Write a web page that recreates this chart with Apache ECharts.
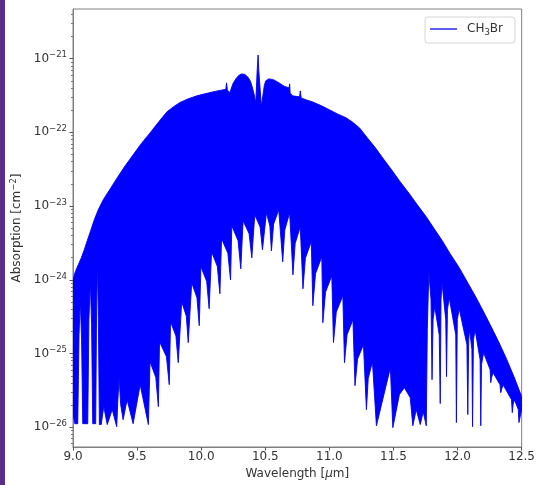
<!DOCTYPE html>
<html><head><meta charset="utf-8">
<script src="https://cdn.jsdelivr.net/npm/echarts@6/dist/echarts.min.js"></script>
<style>
html,body{margin:0;padding:0;background:#fff;}
#chart{position:absolute;left:0;top:0;width:538px;height:485px;}
#strip{position:absolute;left:0;top:0;width:5px;height:485px;background:#5b2e8c;}
</style></head><body>
<div id="chart"></div><div id="strip"></div>
<script>
// Upper envelope of the CH3Br absorption spectrum (wavelength in µm, absorption in cm^-2)
const upperWavelength = [9.000, 9.018, 9.041, 9.065, 9.088, 9.111, 9.135, 9.166, 9.197, 9.236,
  9.290, 9.345, 9.407, 9.469, 9.531, 9.601, 9.663, 9.733, 9.788, 9.835,
  9.897, 9.967, 10.029, 10.091, 10.146, 10.192, 10.198, 10.204, 10.223, 10.231,
  10.247, 10.270, 10.293, 10.317, 10.340, 10.363, 10.383, 10.398, 10.414, 10.426,
  10.437, 10.444, 10.449, 10.470, 10.480, 10.492, 10.503, 10.527, 10.558, 10.589,
  10.620, 10.651, 10.686, 10.690, 10.694, 10.713, 10.768, 10.773, 10.780, 10.822,
  10.869, 10.939, 11.001, 11.063, 11.133, 11.187, 11.235, 11.297, 11.359, 11.421,
  11.491, 11.553, 11.624, 11.686, 11.756, 11.818, 11.881, 11.942, 12.013, 12.075,
  12.137, 12.199, 12.254, 12.316, 12.378, 12.440, 12.500];
const upperAbsorption = [1.00e-24, 1.29e-24, 1.60e-24, 1.99e-24, 2.56e-24, 3.39e-24, 4.49e-24, 6.52e-24, 8.91e-24, 1.22e-23,
  1.71e-23, 2.42e-23, 3.52e-23, 4.96e-23, 6.98e-23, 9.84e-23, 1.35e-22, 1.90e-22, 2.25e-22, 2.55e-22,
  2.84e-22, 3.13e-22, 3.33e-22, 3.54e-22, 3.71e-22, 3.83e-22, 4.69e-22, 3.77e-22, 3.43e-22, 3.77e-22,
  4.54e-22, 5.31e-22, 5.92e-22, 6.21e-22, 6.11e-22, 5.65e-22, 4.99e-22, 4.14e-22, 3.22e-22, 2.51e-22,
  7.03e-22, 1.12e-21, 7.03e-22, 2.22e-22, 3.03e-22, 4.27e-22, 4.99e-22, 5.31e-22, 5.22e-22, 4.91e-22,
  4.54e-22, 4.20e-22, 4.01e-22, 4.54e-22, 3.43e-22, 3.13e-22, 3.03e-22, 3.65e-22, 2.93e-22, 2.75e-22,
  2.59e-22, 2.29e-22, 2.02e-22, 1.78e-22, 1.57e-22, 1.35e-22, 1.15e-22, 8.41e-23, 6.17e-23, 4.38e-23,
  3.01e-23, 2.13e-23, 1.47e-23, 1.04e-23, 7.16e-24, 4.92e-24, 3.39e-24, 2.26e-24, 1.46e-24, 9.42e-25,
  6.09e-25, 3.81e-25, 2.47e-25, 1.50e-25, 8.79e-26, 4.87e-26, 2.61e-26];

// Lower envelope (minima between the rotational lines), left to right
const lowerWavelength = [9.000, 9.014, 9.037, 9.047, 9.057, 9.067, 9.076, 9.115, 9.124, 9.135,
  9.145, 9.154, 9.177, 9.184, 9.191, 9.198, 9.206, 9.220, 9.240, 9.267,
  9.306, 9.341, 9.350, 9.360, 9.372, 9.391, 9.422, 9.469, 9.524, 9.588,
  9.601, 9.646, 9.666, 9.675, 9.729, 9.751, 9.761, 9.803, 9.821, 9.848,
  9.884, 9.899, 9.926, 9.967, 9.985, 9.998, 10.043, 10.062, 10.081, 10.126,
  10.146, 10.159, 10.208, 10.229, 10.239, 10.288, 10.309, 10.327, 10.374, 10.395,
  10.418, 10.460, 10.478, 10.509, 10.536, 10.548, 10.565, 10.605, 10.636, 10.652,
  10.690, 10.716, 10.733, 10.773, 10.794, 10.813, 10.859, 10.871, 10.892, 10.941,
  10.949, 10.970, 11.019, 11.032, 11.054, 11.105, 11.118, 11.138, 11.184, 11.200,
  11.220, 11.266, 11.289, 11.303, 11.336, 11.367, 11.476, 11.495, 11.546, 11.585,
  11.631, 11.651, 11.678, 11.709, 11.732, 11.756, 11.764, 11.776, 11.793, 11.801,
  11.809, 11.822, 11.857, 11.865, 11.871, 11.879, 11.908, 11.914, 11.921, 11.935,
  11.986, 11.991, 11.998, 12.013, 12.073, 12.080, 12.087, 12.094, 12.112, 12.117,
  12.124, 12.137, 12.176, 12.181, 12.187, 12.203, 12.254, 12.259, 12.265, 12.277,
  12.331, 12.337, 12.343, 12.355, 12.421, 12.427, 12.433, 12.444, 12.474, 12.479,
  12.500];
const lowerAbsorption = [1.53e-26, 1.12e-26, 1.12e-26, 1.80e-25, 5.37e-25, 1.54e-25, 1.12e-26, 1.12e-26, 2.88e-25, 9.42e-25,
  2.47e-25, 1.12e-26, 1.12e-26, 3.94e-25, 1.76e-24, 2.88e-25, 1.09e-26, 1.09e-26, 1.91e-26, 1.09e-26,
  1.74e-26, 1.02e-26, 2.37e-26, 4.71e-26, 2.03e-26, 1.27e-26, 2.37e-26, 1.12e-26, 3.79e-26, 1.09e-26,
  7.77e-26, 4.74e-26, 1.91e-26, 1.45e-25, 9.08e-26, 3.79e-26, 2.71e-25, 1.73e-25, 7.53e-26, 5.05e-25,
  3.22e-25, 1.41e-25, 9.14e-25, 5.72e-25, 2.39e-25, 1.51e-24, 9.51e-25, 4.06e-25, 2.40e-24, 1.52e-24,
  6.48e-25, 3.61e-24, 2.30e-24, 1.00e-24, 5.41e-24, 3.39e-24, 1.41e-24, 6.32e-24, 4.22e-24, 1.99e-24,
  7.62e-24, 5.19e-24, 2.56e-24, 8.11e-24, 5.36e-24, 2.47e-24, 5.69e-24, 8.91e-24, 1.76e-24, 4.74e-24,
  8.11e-24, 1.17e-24, 3.10e-24, 5.25e-24, 7.57e-25, 1.97e-24, 3.28e-24, 4.46e-25, 1.21e-24, 2.06e-24,
  2.62e-25, 6.81e-25, 1.14e-24, 1.41e-25, 3.65e-25, 6.09e-25, 7.53e-26, 1.80e-25, 2.88e-25, 3.67e-26,
  8.45e-26, 1.32e-25, 1.74e-26, 4.60e-26, 7.77e-26, 1.05e-26, 6.44e-26, 9.9e-27, 2.77e-26, 3.45e-26,
  2.52e-26, 1.05e-26, 1.74e-26, 1.09e-26, 1.63e-26, 1.05e-26, 2.11e-25, 1.29e-24, 5.37e-25, 4.43e-26,
  2.88e-25, 4.32e-25, 1.80e-25, 2.10e-26, 5.37e-25, 9.14e-25, 2.88e-25, 4.87e-26, 3.94e-25, 5.72e-25,
  1.80e-25, 1.16e-26, 2.88e-25, 4.06e-25, 1.32e-25, 1.49e-26, 1.54e-25, 2.11e-25, 1.13e-25, 1.02e-26,
  1.54e-25, 2.11e-25, 8.26e-26, 1.05e-26, 7.08e-26, 1.03e-25, 6.05e-26, 4.03e-26, 4.71e-26, 5.51e-26,
  3.79e-26, 2.95e-26, 3.24e-26, 3.79e-26, 2.37e-26, 1.58e-26, 2.03e-26, 2.37e-26, 1.74e-26, 1.16e-26,
  1.74e-26];

// Axis ticks
const yTickExponents = [-26, -25, -24, -23, -22, -21];
const yMinorMultipliers = [2, 3, 4, 5, 6, 7, 8, 9];
const xRange = [9.0, 12.5];
const xStep = 0.5;
const yRangeLog = [-26.267, -20.327];
const seriesName = 'CH\u2083Br';

const FONT = 'DejaVu Sans';

// polygon vertices: upper left->right, then lower right->left (log10 of absorption)
const polyData = [];
const nu = Math.min(upperWavelength.length, upperAbsorption.length);
const nl = Math.min(lowerWavelength.length, lowerAbsorption.length);
for (let i = 0; i < nu; i++) polyData.push([upperWavelength[i], Math.log10(upperAbsorption[i])]);
for (let i = nl - 1; i >= 0; i--) polyData.push([lowerWavelength[i], Math.log10(lowerAbsorption[i])]);

const minorTicks = [];
for (let e = -27; e <= -21; e++) {
  for (const m of yMinorMultipliers) {
    const v = e + Math.log10(m);
    if (v > yRangeLog[0] && v < yRangeLog[1]) minorTicks.push(v);
  }
}

const chart = echarts.init(document.getElementById('chart'), null, {renderer: 'canvas'});
chart.setOption({
  animation: false,
  backgroundColor: '#fff',
  grid: {left: 73, right: 15, top: 9, bottom: 38, show: true, borderColor: '#808080', borderWidth: 1, backgroundColor: 'transparent'},
  legend: {
    left: 425, top: 17,
    padding: [6, 12, 6, 5],
    borderColor: '#d6d6d6', borderWidth: 1, borderRadius: 3,
    backgroundColor: '#fff',
    itemWidth: 27, itemHeight: 2,
    data: [{name: seriesName, icon: 'rect', itemStyle: {color: '#5f5ff2'}}],
    formatter: () => '{n|CH}{sub|3}{n|Br}',
    textStyle: {
      padding: [0, 0, 0, 5],
      rich: {
        n: {fontFamily: FONT, fontSize: 12, color: '#333', lineHeight: 16},
        sub: {fontFamily: FONT, fontSize: 8.5, color: '#333', lineHeight: 9, verticalAlign: 'bottom'}
      }
    }
  },
  xAxis: {
    type: 'value', min: xRange[0], max: xRange[1], interval: xStep,
    name: '{n|Wavelength [}{i|\u03bc}{n|m]}', nameLocation: 'middle', nameGap: 19,
    nameTextStyle: {rich: {
      n: {fontFamily: FONT, fontSize: 12, color: '#333'},
      i: {fontFamily: FONT, fontSize: 12, color: '#333', fontStyle: 'italic'}
    }},
    axisLine: {lineStyle: {color: '#808080', width: 1}},
    axisTick: {show: true, length: 3.5, lineStyle: {color: '#555'}},
    axisLabel: {fontFamily: FONT, fontSize: 12, color: '#333', margin: 4, formatter: v => v.toFixed(1)},
    splitLine: {show: false}
  },
  yAxis: [{
    type: 'value', min: yRangeLog[0], max: yRangeLog[1], position: 'left',
    name: '{n|Absorption [cm}{s|\u22122}{n|]}', nameLocation: 'middle', nameGap: 48,
    nameTextStyle: {rich: {
      n: {fontFamily: FONT, fontSize: 12, color: '#333', lineHeight: 15},
      s: {fontFamily: FONT, fontSize: 8.5, color: '#333', lineHeight: 9, verticalAlign: 'top'}
    }},
    axisLine: {show: true, lineStyle: {color: '#808080', width: 1}},
    axisTick: {show: true, length: 3.5, customValues: yTickExponents, lineStyle: {color: '#555'}},
    axisLabel: {
      customValues: yTickExponents, margin: 6,
      formatter: v => '{b|10}{s|\u2212' + Math.abs(Math.round(v)) + '}',
      rich: {
        b: {fontFamily: FONT, fontSize: 12, color: '#333', lineHeight: 16},
        s: {fontFamily: FONT, fontSize: 8.5, color: '#333', lineHeight: 9, verticalAlign: 'top'}
      }
    },
    splitLine: {show: false}
  }, {
    type: 'value', min: yRangeLog[0], max: yRangeLog[1], position: 'left',
    axisLine: {show: false},
    axisTick: {show: true, length: 2, customValues: minorTicks, lineStyle: {color: '#777'}},
    axisLabel: {show: false},
    splitLine: {show: false}
  }],
  series: [{
    name: seriesName,
    type: 'custom',
    coordinateSystem: 'cartesian2d',
    xAxisIndex: 0, yAxisIndex: 0,
    clip: true,
    itemStyle: {color: '#0000ff'},
    data: polyData,
    renderItem: (params, api) => {
      if (params.dataIndex !== 0) return null;
      const pts = polyData.map(p => api.coord(p));
      return {type: 'polygon', shape: {points: pts}, style: {fill: '#0000ff', stroke: '#0000f0', lineWidth: 0.9, lineJoin: 'round'}};
    }
  }]
});
</script></body></html>
